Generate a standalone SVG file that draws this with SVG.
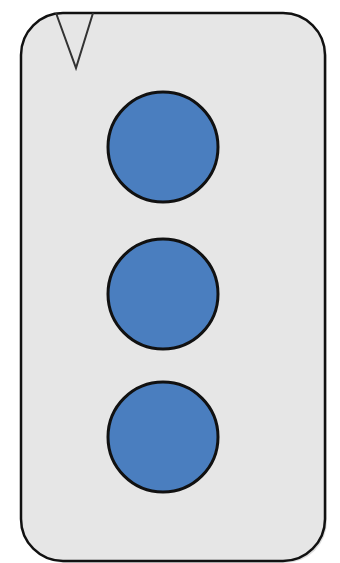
<svg xmlns="http://www.w3.org/2000/svg" width="340" height="563" viewBox="0 0 340 563">
<style>
.frame{fill:#e6e6e6;stroke:#111;stroke-width:2.5}
.dot{fill:#4a7ebf;stroke:#111;stroke-width:3}
.notch{fill:none;stroke:#333;stroke-width:2}
</style>
<rect width="340" height="563" fill="#fff"/>
<g id="device">
<rect x="23" y="15" width="304" height="548" rx="42" fill="#bbb" opacity="0.5"/>
<rect class="frame" x="21" y="13" width="304" height="548" rx="42"/>
<polyline class="notch" points="56,13 76,68 93,13"/>
</g>
<g id="circle1"><circle class="dot" cx="163" cy="147" r="55"/></g>
<g id="circle2"><circle class="dot" cx="163" cy="294" r="55"/></g>
<g id="circle3"><circle class="dot" cx="163" cy="437" r="55"/></g>
<g id="connectors"></g>
</svg>
